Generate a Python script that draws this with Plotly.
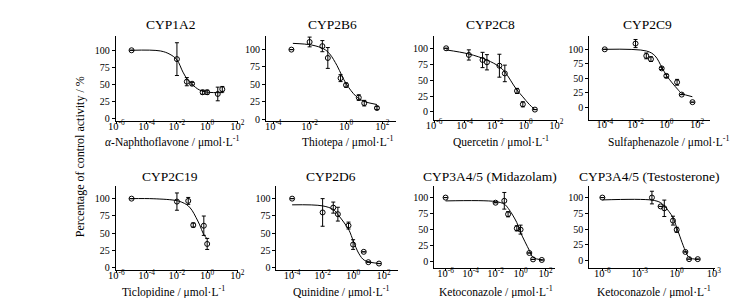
import plotly.graph_objects as go

W, H = 754, 298

# ---------------- data ----------------
titles = ["CYP1A2", "CYP2B6", "CYP2C8", "CYP2C9",
          "CYP2C19", "CYP2D6", "CYP3A4/5 (Midazolam)", "CYP3A4/5 (Testosterone)"]
xlabels = ["<i>α</i>-Naphthoflavone / μmol·L<sup>-1</sup>",
           "Thiotepa / μmol·L<sup>-1</sup>",
           "Quercetin / μmol·L<sup>-1</sup>",
           "Sulfaphenazole / μmol·L<sup>-1</sup>",
           "Ticlopidine / μmol·L<sup>-1</sup>",
           "Quinidine / μmol·L<sup>-1</sup>",
           "Ketoconazole / μmol·L<sup>-1</sup>",
           "Ketoconazole / μmol·L<sup>-1</sup>"]
ylabel = "Percentage of control activity / %"

ytick_vals = [0, 25, 50, 75, 100]
xtick_vals_a = [1e-6, 1e-4, 1e-2, 1, 1e2]
xtick_text_a = ["10<sup>-6</sup>", "10<sup>-4</sup>", "10<sup>-2</sup>", "10<sup>0</sup>", "10<sup>2</sup>"]
xtick_vals_b = [1e-4, 1e-2, 1, 1e2]
xtick_text_b = ["10<sup>-4</sup>", "10<sup>-2</sup>", "10<sup>0</sup>", "10<sup>2</sup>"]
xtick_vals_c = [1e-6, 1e-3, 1, 1e3]
xtick_text_c = ["10<sup>-6</sup>", "10<sup>-3</sup>", "10<sup>0</sup>", "10<sup>3</sup>"]

# CYP1A2
cyp1a2_conc = [1e-5, 0.01, 0.045, 0.1, 0.5, 1, 5, 10]
cyp1a2_act = [100, 87, 54, 51, 38.5, 38.5, 36, 43]
cyp1a2_err = [None, 24, 6, 2, 3, 3, 10, 4]
cyp1a2_fit_x = [1e-5, 8e-4, 3.5e-3, 0.01, 0.025, 0.05, 0.1, 0.3, 1, 12]
cyp1a2_fit_y = [100, 99, 94, 86, 68, 57, 50, 42, 38.7, 38]

# CYP2B6
cyp2b6_conc = [1e-3, 0.01, 0.05, 0.1, 0.5, 1, 5, 10, 50]
cyp2b6_act = [100, 111, 105, 88, 59, 49, 31, 23, 16]
cyp2b6_err = [None, 7, 8, 15, 5, 3, 4, 4, 2]
cyp2b6_fit_x = [1.2e-3, 0.013, 0.06, 0.125, 0.32, 0.58, 1.07, 3.5, 9.5, 50]
cyp2b6_fit_y = [109, 106.6, 101, 94, 77, 63, 50, 33, 25.7, 21]

# CYP2C8
cyp2c8_conc = [6.2e-6, 1.9e-4, 1.5e-3, 2.9e-3, 0.019, 0.043, 0.27, 0.65, 4.0]
cyp2c8_act = [100, 89.5, 81.6, 78, 72.6, 60.5, 33, 12, 3.7]
cyp2c8_err = [None, 8, 12, 12, 18, 13, 4, 4, None]
cyp2c8_fit_x = [6.2e-6, 1.9e-4, 2.9e-3, 0.019, 0.043, 0.24, 0.65, 1.7, 4.0]
cyp2c8_fit_y = [97.4, 91, 81.6, 71, 63, 36, 23.7, 12, 3.7]

# CYP2C9
cyp2c9_conc = [1e-4, 0.01, 0.05, 0.1, 0.5, 1, 5, 10, 50]
cyp2c9_act = [100, 110, 88.6, 83, 67, 54, 43, 21.7, 8.6]
cyp2c9_err = [None, 7, 5, 4, 2, 3, 5, None, None]
cyp2c9_fit_x = [1e-4, 0.052, 0.18, 0.52, 1.07, 5.4, 9.8, 49]
cyp2c9_fit_y = [100, 97, 89, 68.6, 54, 31, 24, 18]

# CYP2C19
cyp2c19_conc = [1e-5, 0.01, 0.056, 0.12, 0.6, 1]
cyp2c19_act = [100, 95.7, 96.7, 61.7, 60.8, 34.4]
cyp2c19_err = [None, 12.5, 5, 3, 14, 8]
cyp2c19_fit_x = [1e-5, 3e-4, 0.01, 0.032, 0.056, 0.1, 0.18, 0.32, 0.56, 1]
cyp2c19_fit_y = [100, 99.8, 97, 93, 89.5, 83, 73, 62, 49, 41.6]

# CYP2D6
cyp2d6_conc = [1e-4, 0.01, 0.05, 0.1, 0.5, 1, 5, 10, 50]
cyp2d6_act = [100, 80, 87, 77.5, 61, 33.5, 23, 8, 6]
cyp2d6_err = [None, 20, 8, 10, 5, 7, None, None, None]
cyp2d6_fit_x = [1e-4, 0.01, 0.052, 0.1, 0.35, 0.56, 1.02, 2.45, 5.75, 62]
cyp2d6_fit_y = [91, 89.5, 84, 77, 61, 53.6, 39, 20, 10.5, 6]

# CYP3A4/5 (Midazolam)
cyp3a4m_conc = [1e-6, 0.01, 0.05, 0.1, 0.5, 1, 5, 10, 50]
cyp3a4m_act = [100, 92, 95, 74, 52, 50, 13.5, 3.5, 2.6]
cyp3a4m_err = [None, None, 13, 4, 4, 7, None, None, None]
cyp3a4m_fit_x = [1e-6, 0.01, 0.051, 0.105, 0.5, 1, 5.2, 10, 52]
cyp3a4m_fit_y = [94.8, 93.8, 89.6, 83, 61, 45.6, 17, 6.7, 2.6]

# CYP3A4/5 (Testosterone)
cyp3a4t_conc = [1e-6, 0.01, 0.05, 0.1, 0.5, 1, 5, 10, 50]
cyp3a4t_act = [100, 100, 86, 83, 63.5, 49, 14, 2.6, 2.6]
cyp3a4t_err = [None, 10, None, 13, 7, 4, None, None, None]
cyp3a4t_fit_x = [1e-6, 0.01, 0.05, 0.1, 0.5, 1, 5, 10, 50]
cyp3a4t_fit_y = [96.3, 96, 92, 86.8, 68.4, 52.6, 15.8, 5.3, 2]

panels = [
    (cyp1a2_conc, cyp1a2_act, cyp1a2_err, cyp1a2_fit_x, cyp1a2_fit_y),
    (cyp2b6_conc, cyp2b6_act, cyp2b6_err, cyp2b6_fit_x, cyp2b6_fit_y),
    (cyp2c8_conc, cyp2c8_act, cyp2c8_err, cyp2c8_fit_x, cyp2c8_fit_y),
    (cyp2c9_conc, cyp2c9_act, cyp2c9_err, cyp2c9_fit_x, cyp2c9_fit_y),
    (cyp2c19_conc, cyp2c19_act, cyp2c19_err, cyp2c19_fit_x, cyp2c19_fit_y),
    (cyp2d6_conc, cyp2d6_act, cyp2d6_err, cyp2d6_fit_x, cyp2d6_fit_y),
    (cyp3a4m_conc, cyp3a4m_act, cyp3a4m_err, cyp3a4m_fit_x, cyp3a4m_fit_y),
    (cyp3a4t_conc, cyp3a4t_act, cyp3a4t_err, cyp3a4t_fit_x, cyp3a4t_fit_y),
]

# ---------------- layout (pixel geometry) ----------------
# x0, x1, top, bottom, xrange(log), yrange, tick set
geom = [
    (101.7, 226.7, 28, 114.3, [-6.05, 2.05], [-3.8, 121.3], "a"),
    (255, 388, 28, 114.3, [-4.4, 2.76], [-2.9, 120], "b"),
    (426.5, 552, 28, 113.3, [-6.0, 2.05], [-12.9, 119.7], "a"),
    (585, 708.3, 28.3, 113, [-5.0, 2.85], [-22, 123], "b"),
    (101.7, 226.7, 180, 265, [-6.05, 2.05], [-3.8, 118], "a"),
    (265.7, 390, 180, 265, [-5.03, 2.96], [-3.8, 118], "b"),
    (426.7, 550, 180, 263, [-6.91, 2.76], [-10.5, 117.8], "a"),
    (585, 713.3, 180, 263, [-7.05, 3.1], [-12, 118], "c"),
]
title_pos = [(158, 17), (323, 17), (484, 17), (644, 17),
             (157, 170.5), (321, 170), (484, 170.5), (646, 170.5)]
xlabel_pos = [(160, 135), (338, 135), (495, 135), (666, 135),
              (161, 286), (332, 286), (490, 286), (651, 286)]

FONT = "Liberation Serif"
ticksets = {"a": (xtick_vals_a, xtick_text_a),
            "b": (xtick_vals_b, xtick_text_b),
            "c": (xtick_vals_c, xtick_text_c)}

fig = go.Figure()
annotations = []
for i, ((cx, cy, ce, fx, fy), g) in enumerate(zip(panels, geom)):
    x0, x1, top, bot, xr, yr, ts = g
    n = "" if i == 0 else str(i + 1)
    xa, ya = "x" + n, "y" + n
    fig.add_trace(go.Scatter(x=fx, y=fy, mode="lines", line=dict(color="black", width=1, shape="spline"),
                             xaxis=xa, yaxis=ya, showlegend=False, hoverinfo="skip"))
    fig.add_trace(go.Scatter(x=cx, y=cy, mode="markers",
                             marker=dict(symbol="circle-open", size=5, color="black", line=dict(width=1)),
                             error_y=dict(type="data", array=ce, visible=True, color="black", thickness=1, width=2),
                             xaxis=xa, yaxis=ya, showlegend=False))
    tv, tt = ticksets[ts]
    fig.layout["xaxis" + n] = dict(
        domain=[x0 / W, x1 / W], anchor=ya, type="log", range=xr,
        tickvals=tv, ticktext=tt, ticks="outside", ticklen=2, tickcolor="black",
        ticklabelstandoff=-7,
        showline=True, linecolor="black", linewidth=1, showgrid=False, zeroline=False,
        tickfont=dict(family=FONT, size=10.5, color="black"))
    fig.layout["yaxis" + n] = dict(
        domain=[1 - bot / H, 1 - top / H], anchor=xa, range=yr,
        tickvals=ytick_vals, ticks="outside", ticklen=3, tickcolor="black",
        showline=True, linecolor="black", linewidth=1, showgrid=False, zeroline=False,
        tickfont=dict(family=FONT, size=10, color="black"))
    tx, ty = title_pos[i]
    annotations.append(dict(text=titles[i], x=tx / W, y=1 - ty / H, xref="paper", yref="paper",
                            xanchor="center", yanchor="middle", showarrow=False,
                            font=dict(family=FONT, size=13.5, color="black")))
    lx, ly = xlabel_pos[i]
    annotations.append(dict(text=xlabels[i], x=lx / W, y=1 - ly / H, xref="paper", yref="paper",
                            xanchor="center", yanchor="middle", showarrow=False,
                            font=dict(family=FONT, size=11.5, color="black")))

annotations.append(dict(text=ylabel, x=66 / W, y=1 - 150 / H, xref="paper", yref="paper",
                        xanchor="center", yanchor="middle", showarrow=False, textangle=-90,
                        font=dict(family=FONT, size=12, color="black")))

fig.update_layout(width=W, height=H, margin=dict(l=0, r=0, t=0, b=0),
                  paper_bgcolor="white", plot_bgcolor="white",
                  annotations=annotations, showlegend=False)

fig.write_html("out.html", include_plotlyjs=True)
